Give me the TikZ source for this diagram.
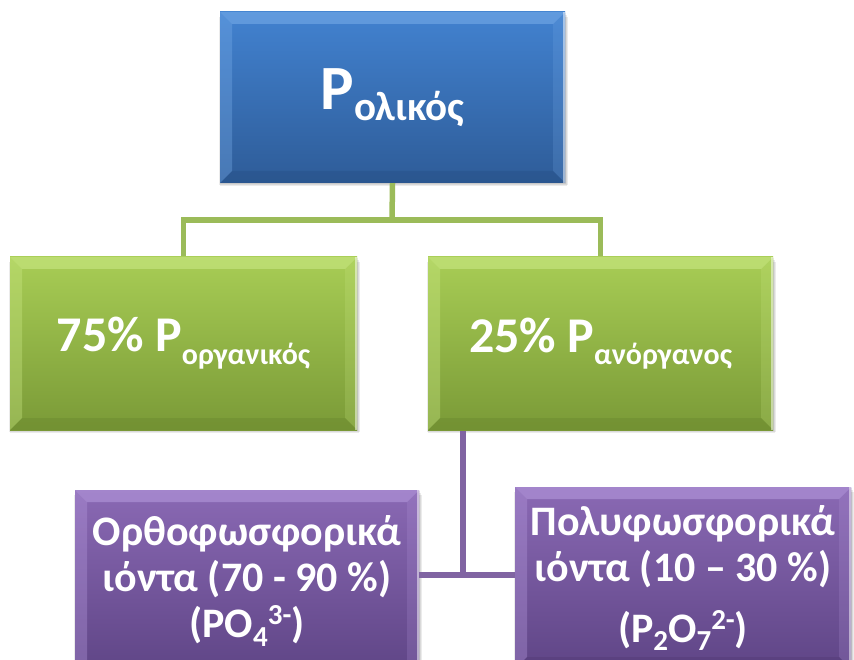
\documentclass[tikz,border=0pt]{standalone}
\usepackage{fontspec}
\setmainfont{Carlito}
\usetikzlibrary{backgrounds}
\definecolor{blueT}{HTML}{4282D0}
\definecolor{blueB}{HTML}{2E5C98}
\definecolor{blueL}{HTML}{7AAEEA}
\definecolor{blueD}{HTML}{244C80}
\definecolor{greenT}{HTML}{A8CD55}
\definecolor{greenB}{HTML}{7A9A37}
\definecolor{greenL}{HTML}{CDEA88}
\definecolor{greenD}{HTML}{66822C}
\definecolor{purpT}{HTML}{8A69B4}
\definecolor{purpB}{HTML}{5F4586}
\definecolor{purpL}{HTML}{B89CE0}
\definecolor{purpD}{HTML}{4E3670}
\definecolor{gline}{HTML}{9BBB59}
\definecolor{pline}{HTML}{8064A2}
\newcommand\lowtext[3]{\raisebox{#2}{\fontsize{#1}{#1}\selectfont #3}}
\tikzset{
  bevbox/.style n args={4}{rectangle, inner sep=0pt, top color=#1, bottom color=#2,
    text=white, align=center,
    path picture={
      \fill[#3, opacity=.55] (path picture bounding box.north west) -- (path picture bounding box.north east)
        -- ([xshift=-12pt,yshift=-12pt]path picture bounding box.north east)
        -- ([xshift=12pt,yshift=-12pt]path picture bounding box.north west) -- cycle;
      \fill[#3, opacity=.35] (path picture bounding box.north west)
        -- ([xshift=12pt,yshift=-12pt]path picture bounding box.north west)
        -- ([xshift=12pt,yshift=12pt]path picture bounding box.south west)
        -- (path picture bounding box.south west) -- cycle;
      \fill[#3, opacity=.2] (path picture bounding box.north east)
        -- ([xshift=-12pt,yshift=-12pt]path picture bounding box.north east)
        -- ([xshift=-12pt,yshift=12pt]path picture bounding box.south east)
        -- (path picture bounding box.south east) -- cycle;
      \fill[#4, opacity=.35] (path picture bounding box.south west)
        -- ([xshift=12pt,yshift=12pt]path picture bounding box.south west)
        -- ([xshift=-12pt,yshift=12pt]path picture bounding box.south east)
        -- (path picture bounding box.south east) -- cycle;
      \draw[white, opacity=.5, line width=1.5pt] ([xshift=-1pt]path picture bounding box.north east) -- ([xshift=-1pt]path picture bounding box.south east);
    }},
  bluebox/.style={bevbox={blueT}{blueB}{blueL}{blueD}},
  greenbox/.style={bevbox={greenT}{greenB}{greenL}{greenD}},
  purpbox/.style={bevbox={purpT}{purpB}{purpL}{purpD}},
  gconn/.style={draw=gline, line width=5.5pt},
  pconn/.style={draw=pline, line width=5.5pt},
  shad/.style={fill=black, opacity=.08}
}
\begin{document}
\begin{tikzpicture}[x=1pt,y=-1pt]
\useasboundingbox (0,0) rectangle (854,660);
\clip (0,0) rectangle (854,660);
\node[bluebox, minimum width=345pt, minimum height=171pt, font=\fontsize{63}{63}\selectfont\bfseries]
  (top) at (392.5,97.5) {P\lowtext{41}{-11pt}{ολικός}};
\node[greenbox, minimum width=347pt, minimum height=173pt, font=\fontsize{50}{50}\selectfont\bfseries]
  (gL) at (183.5,343.5) {75\% P\lowtext{30}{-13pt}{οργανικός}};
\node[greenbox, minimum width=345pt, minimum height=173pt, font=\fontsize{50}{50}\selectfont\bfseries]
  (gR) at (600.5,343.5) {25\% P\lowtext{30}{-12pt}{ανόργανος}};
\node[purpbox, minimum width=344pt, minimum height=182pt, font=\fontsize{42}{46}\selectfont\bfseries]
  (pL) at (247,581) {Ορθοφωσφορικά\\ιόντα (70 - 90 \%)\\(PO\lowtext{29}{-9pt}{4}\lowtext{29}{13pt}{3-})};
\node[purpbox, minimum width=336pt, minimum height=182pt, font=\fontsize{42}{46}\selectfont\bfseries]
  (pR) at (683,578) {Πολυφωσφορικά\\ιόντα (10 – 30 \%)\\[15pt](P\lowtext{29}{-8pt}{2}O\lowtext{29}{-8pt}{7}\lowtext{29}{13pt}{2-})};
\coordinate (gj) at (392,220);
\coordinate (pj) at (463,575);
\begin{scope}[on background layer]
  \foreach \n in {top,gL,gR,pL,pR}{
    \fill[shad] ([xshift=-1pt,yshift=-2pt]\n.south west) rectangle ([xshift=3pt,yshift=-5pt]\n.north east);
    \fill[shad] ([xshift=0pt,yshift=-3pt]\n.south west) rectangle ([xshift=2pt,yshift=-3pt]\n.north east);
    \fill[shad] ([xshift=0pt,yshift=-1pt]\n.south west) rectangle ([xshift=1pt,yshift=-1pt]\n.north east);
  }
  \draw[gconn] (top.south) -- (gj);
  \draw[gconn] (gL.north) |- (gj) -| (gR.north);
  \draw[pconn] (gR.south -| pj) -- (pj);
  \draw[pconn] (pL.east |- pj) -- (pR.west |- pj);
\end{scope}
\end{tikzpicture}
\end{document}
